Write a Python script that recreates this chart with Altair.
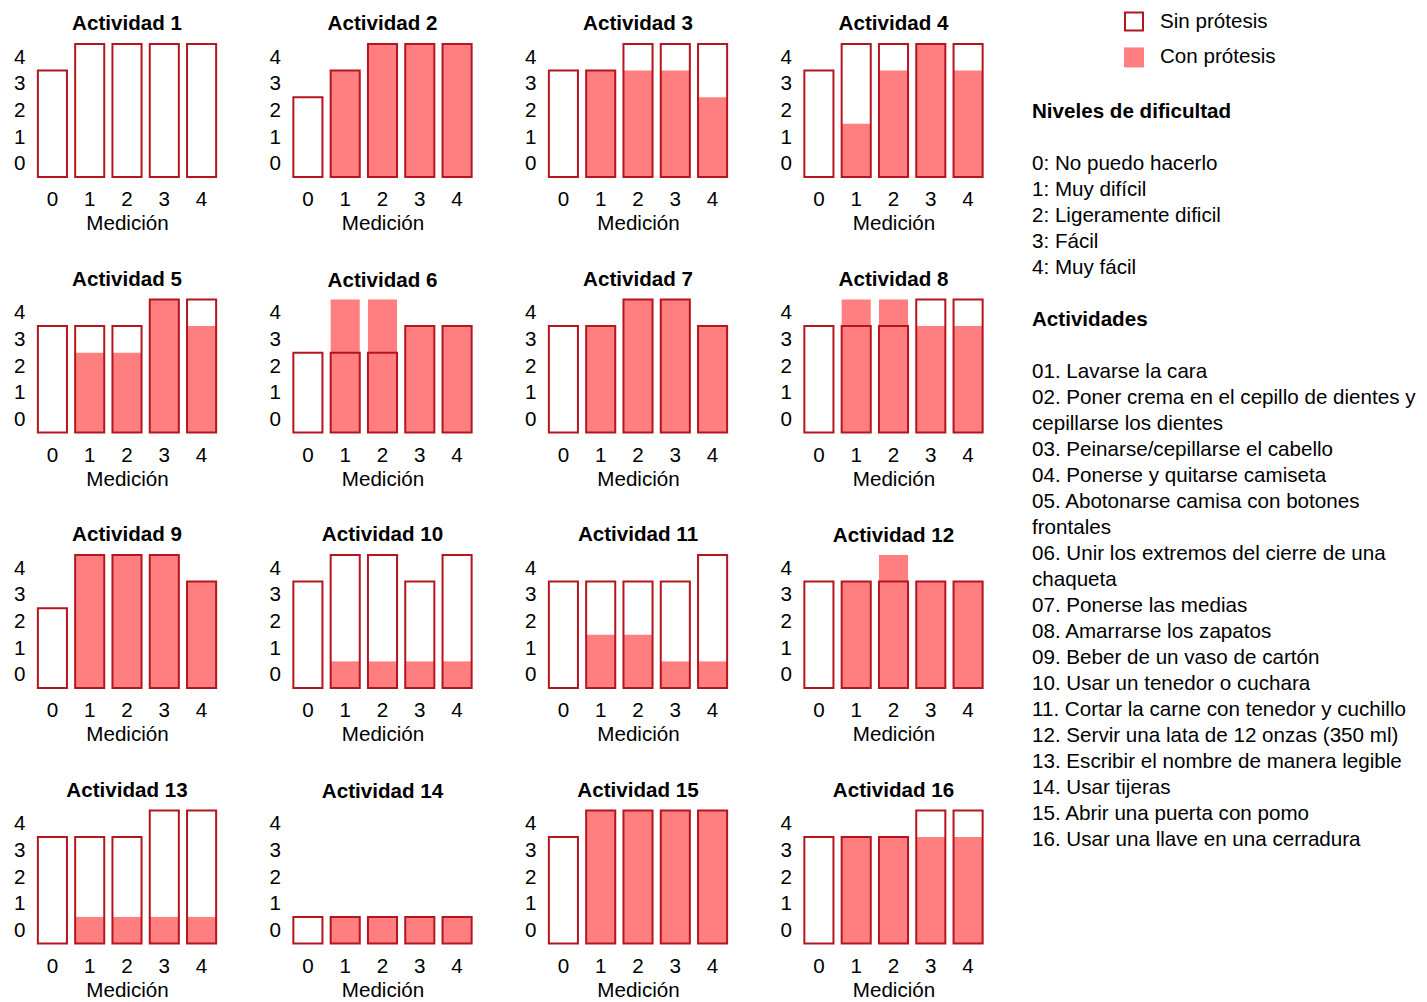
import altair as alt
import pandas as pd

# ---------------- data ----------------
actividades = [f"Actividad {i}" for i in range(1, 17)]
mediciones = [0, 1, 2, 3, 4]
series = ["Sin prótesis", "Con prótesis"]

# Sin prótesis: medición 0..4
sin_protesis = [
    [3, 4, 4, 4, 4],
    [2, 3, 4, 4, 4],
    [3, 3, 4, 4, 4],
    [3, 4, 4, 4, 4],
    [3, 3, 3, 4, 4],
    [2, 2, 2, 3, 3],
    [3, 3, 4, 4, 3],
    [3, 3, 3, 4, 4],
    [2, 4, 4, 4, 3],
    [3, 4, 4, 3, 4],
    [3, 3, 3, 3, 4],
    [3, 3, 3, 3, 3],
    [3, 3, 3, 4, 4],
    [0, 0, 0, 0, 0],
    [3, 4, 4, 4, 4],
    [3, 3, 3, 4, 4],
]
# Con prótesis: medición 1..4
con_protesis = [
    [None, None, None, None],
    [3, 4, 4, 4],
    [3, 3, 3, 2],
    [1, 3, 4, 3],
    [2, 2, 4, 3],
    [4, 4, 3, 3],
    [3, 4, 4, 3],
    [4, 4, 3, 3],
    [4, 4, 4, 3],
    [0, 0, 0, 0],
    [1, 1, 0, 0],
    [3, 4, 3, 3],
    [0, 0, 0, 0],
    [0, 0, 0, 0],
    [4, 4, 4, 4],
    [3, 3, 3, 3],
]

titulo_niveles = "Niveles de dificultad"
niveles = [
    "0: No puedo hacerlo",
    "1: Muy difícil",
    "2: Ligeramente dificil",
    "3: Fácil",
    "4: Muy fácil",
]
titulo_actividades = "Actividades"
actividades_desc = [
    "01. Lavarse la cara",
    "02. Poner crema en el cepillo de dientes y\ncepillarse los dientes",
    "03. Peinarse/cepillarse el cabello",
    "04. Ponerse y quitarse camiseta",
    "05. Abotonarse camisa con botones\nfrontales",
    "06. Unir los extremos del cierre de una\nchaqueta",
    "07. Ponerse las medias",
    "08. Amarrarse los zapatos",
    "09. Beber de un vaso de cartón",
    "10. Usar un tenedor o cuchara",
    "11. Cortar la carne con tenedor y cuchillo",
    "12. Servir una lata de 12 onzas (350 ml)",
    "13. Escribir el nombre de manera legible",
    "14. Usar tijeras",
    "15. Abrir una puerta con pomo",
    "16. Usar una llave en una cerradura",
]

# ---------------- build tables ----------------
rows = []
for a, s_vals, c_vals in zip(actividades, sin_protesis, con_protesis):
    for m, v in zip(mediciones, s_vals):
        rows.append({"Actividad": a, "Medición": m, "Serie": series[0], "Valor": v})
    for m, v in zip(mediciones[1:], c_vals):
        if v is not None:
            rows.append({"Actividad": a, "Medición": m, "Serie": series[1], "Valor": v})
df = pd.DataFrame(rows)

FILL = "#FF7F80"
STROKE = "#B5151E"
FONT = "Liberation Sans"
FS = 20.6

x_enc = alt.X(
    "Medición:O",
    scale=alt.Scale(paddingInner=0.22, paddingOuter=0.05),
    axis=alt.Axis(labelAngle=0, ticks=False, domain=False, labelFontSize=FS,
                  labelPadding=12.5, title="Medición", titleFontSize=FS,
                  titleFontWeight="normal", titlePadding=3.5,
                  labelColor="black", titleColor="black", labelFont=FONT, titleFont=FONT),
)
y_enc = alt.Y(
    "top:Q",
    scale=alt.Scale(domain=[-0.5, 4.5], nice=False, zero=False),
    axis=alt.Axis(values=[0, 1, 2, 3, 4], ticks=False, domain=False, grid=False,
                  labelFontSize=FS, labelPadding=11, title=None,
                  labelColor="black", labelFont=FONT),
)

base = alt.Chart().transform_calculate(top="datum.Valor + 0.5", bottom="-0.5")

fill_layer = base.transform_filter(alt.datum.Serie == series[1]).mark_bar(
    color=FILL
).encode(x=x_enc, y=y_enc, y2="bottom:Q")

outline_layer = base.transform_filter(alt.datum.Serie == series[0]).mark_bar(
    filled=False, color=STROKE, strokeWidth=2
).encode(x=x_enc, y=y_enc, y2="bottom:Q")

panels = alt.layer(fill_layer, outline_layer, data=df).properties(
    width=182, height=133
).facet(
    facet=alt.Facet(
        "Actividad:N", sort=actividades, title=None,
        header=alt.Header(labelFontSize=FS, labelFontWeight="bold", labelFont=FONT,
                          labelPadding=8, labelColor="black"),
    ),
    columns=4,
    spacing=alt.RowColnumber(row=34.5, column=50.5),
).resolve_axis(x="independent", y="independent")

# ---------------- right-hand legend / notes ----------------
ROW_OFF = 36.5 / 26
TXT_H = 880

text_rows = []
r = 4
text_rows.append({"txt": titulo_niveles, "r": r, "bold": True})
r += 2
for t in niveles:
    text_rows.append({"txt": t, "r": r, "bold": False})
    r += 1
r += 1
text_rows.append({"txt": titulo_actividades, "r": r, "bold": True})
r += 2
for d in actividades_desc:
    for line in d.split("\n"):
        text_rows.append({"txt": line, "r": r, "bold": False})
        r += 1
text_df = pd.DataFrame(text_rows)

legend_df = pd.DataFrame({"label": series, "r": [0.54, 1.92]})

y_txt = alt.Y("r:Q", axis=None,
              scale=alt.Scale(domain=[ROW_OFF, ROW_OFF + TXT_H / 26], reverse=True,
                              nice=False, zero=False))

TX = 27
txt_normal = alt.Chart(text_df).transform_filter(alt.datum.bold == False).mark_text(
    align="left", baseline="middle", font=FONT, fontSize=FS, color="black"
).encode(x=alt.value(TX), y=y_txt, text="txt:N")

txt_bold = alt.Chart(text_df).transform_filter(alt.datum.bold == True).mark_text(
    align="left", baseline="middle", font=FONT, fontSize=FS, fontWeight="bold", color="black"
).encode(x=alt.value(TX), y=y_txt, text="txt:N")

leg_sin = alt.Chart(legend_df).transform_filter(alt.datum.label == series[0]).mark_point(
    shape="square", size=324, filled=False, color=STROKE, strokeWidth=2, opacity=1
).encode(x=alt.value(TX + 102), y=y_txt)

leg_con = alt.Chart(legend_df).transform_filter(alt.datum.label == series[1]).mark_point(
    shape="square", size=400, filled=True, color=FILL, opacity=1
).encode(x=alt.value(TX + 102), y=y_txt)

leg_txt = alt.Chart(legend_df).mark_text(
    align="left", baseline="middle", font=FONT, fontSize=FS, color="black"
).encode(x=alt.value(TX + 128), y=y_txt, text="label:N")

notes = alt.layer(leg_sin, leg_con, leg_txt, txt_bold, txt_normal).properties(
    width=360, height=TXT_H
)

chart = alt.hconcat(panels, notes, spacing=20).properties(
    padding={"left": 5, "top": 0, "right": 0, "bottom": 0}
).configure(font=FONT).configure_view(stroke="transparent", strokeWidth=0)

chart.save("out.html", embed_options={"renderer": "svg", "actions": False})
